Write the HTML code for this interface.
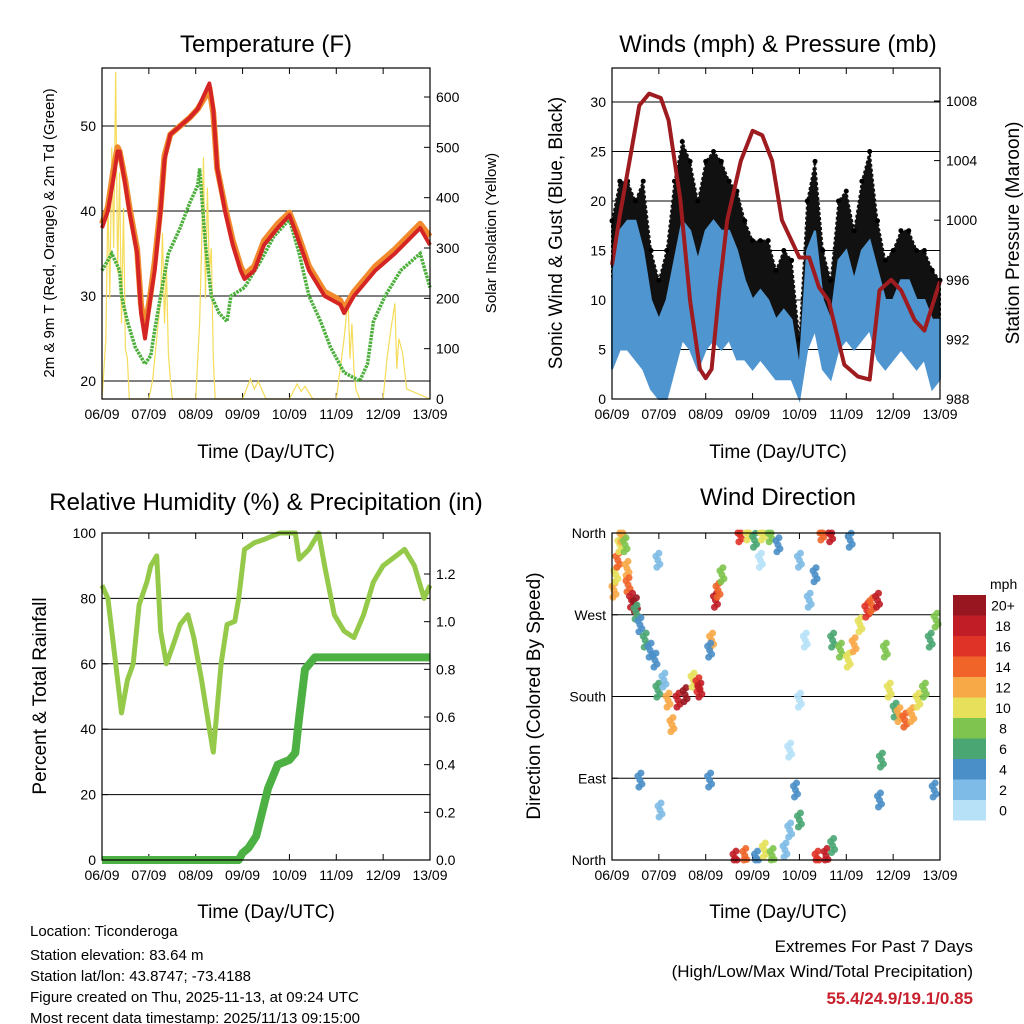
<!DOCTYPE html>
<html><head><meta charset="utf-8"><style>
html,body{margin:0;padding:0;background:#fff}
svg{display:block;font-family:"Liberation Sans",sans-serif}
</style></head><body>
<svg id="s" width="1024" height="1024" viewBox="0 0 1024 1024" xmlns="http://www.w3.org/2000/svg">
<g font-size="24" text-anchor="middle">
<text x="266" y="52">Temperature (F)</text>
<text x="778" y="52">Winds (mph) &amp; Pressure (mb)</text>
<text x="266" y="510">Relative Humidity (%) &amp; Precipitation (in)</text>
<text x="778" y="505">Wind Direction</text>
</g>
<g font-size="19" text-anchor="middle">
<text x="266" y="458">Time (Day/UTC)</text>
<text x="778" y="458">Time (Day/UTC)</text>
<text x="266" y="918">Time (Day/UTC)</text>
<text x="778" y="918">Time (Day/UTC)</text>
<text transform="translate(54,233) rotate(-90)" font-size="15">2m &amp; 9m T (Red, Orange) &amp; 2m Td (Green)</text>
<text transform="translate(496,233) rotate(-90)" font-size="15">Solar Insolation (Yellow)</text>
<text transform="translate(562,233) rotate(-90)">Sonic Wind &amp; Gust (Blue, Black)</text>
<text transform="translate(1019,233) rotate(-90)">Station Pressure (Maroon)</text>
<text transform="translate(46,696) rotate(-90)">Percent &amp; Total Rainfall</text>
<text transform="translate(540,696) rotate(-90)">Direction (Colored By Speed)</text>
</g>
<g font-size="15">
<text x="30" y="936">Location: Ticonderoga</text>
<text x="30" y="960">Station elevation: 83.64 m</text>
<text x="30" y="981">Station lat/lon: 43.8747; -73.4188</text>
<text x="30" y="1002">Figure created on Thu, 2025-11-13, at 09:24 UTC</text>
<text x="30" y="1023">Most recent data timestamp: 2025/11/13 09:15:00</text>
</g>
<g font-size="17" text-anchor="end">
<text x="973" y="952">Extremes For Past 7 Days</text>
<text x="973" y="977">(High/Low/Max Wind/Total Precipitation)</text>
<text x="973" y="1004" fill="#c8202c" font-weight="bold">55.4/24.9/19.1/0.85</text>
</g>
</svg>
<script>
// ---------- data ----------
const dayLabels = ["06/09","07/09","08/09","09/09","10/09","11/09","12/09","13/09"];
const tempHours = [0,3,6,8,9,12,14,18,20,22,25,27,30,32,35,40,45,49,53,55,57,59,63,67,71,73,78,83,90,96,100,106,114,122,124,129,140,150,163,168];
const temp2m = [38,40,44,47,47,43,40,35,28,25,30,33,40,46,49,50,51,52,54,55,52,45,40,36,33,32,33,36,38,39.5,37,33,30,29,28,30,33,35,38,36];
const temp9m = [38.5,40.5,45,47.5,47,43.5,40.5,35.5,29,26,30.5,34,40.5,46.5,49,50,51,52,53.5,54.5,51.5,45,40.5,36.5,33.5,32.5,33.5,36.5,38.5,39.8,37.5,33.5,30.5,29.5,28.5,30.5,33.5,35.5,38.5,37];
const dewHours = [0,5,9,10,13,17,22,25,27,30,34,40,45,49,50,53,56,60,64,66,73,81,88,96,101,106,112,117,124,132,136,139,145,153,163,168];
const dew2m = [33,35,33,30,27,24,22,23,26,30,35,38,41,43,45,36,30,28,27,30,31,34,37,39,35,30,27,24,21,20,22,27,30,33,35,31];
const solarHours = [0,2,3,4,5,6,7,8,9,10,11,12,13,14,24,26,28,30,31,32,33,34,35,36,48,50,51,52,53,54,55,56,57,58,72,76,78,80,84,96,100,102,104,108,120,122,124,126,127,128,129,130,132,144,146,148,150,151,152,154,156,168];
const solarVal = [0,120,400,200,500,300,650,250,450,150,380,100,80,0,0,40,120,200,330,150,260,90,40,0,0,150,300,480,200,420,250,300,80,0,0,40,20,35,0,0,30,15,25,0,0,60,120,200,80,150,60,20,0,0,80,140,190,60,120,90,20,0];
const presHours = [0,4,9,14,19,25,29,35,40,45,48,51,55,59,66,72,77,82,87,96,101,106,111,119,126,132,137,143,148,155,160,168];
const pressure = [997,1000.3,1004,1007.7,1008.5,1008.2,1006.7,1001.4,994.6,990,989.4,990,995.4,1000,1004,1006,1005.7,1004,1000,997.5,997.5,995.5,994.6,990.3,989.5,989.3,995.3,996,995.3,993.3,992.6,995.9];
const windHours = [0,4,8,12,16,20,24,28,32,36,40,44,48,52,56,60,64,68,72,76,80,84,88,92,96,100,104,108,112,116,120,124,128,132,136,140,144,148,152,156,160,164,168];
const windLo = [3,5,5,4,3,1,0,0,3,6,5,3,5,6,5,6,4,4,3,4,3,2,2,2,0,5,7,3,2,5,6,5,6,7,4,3,4,5,4,3,4,1,2];
const windHi = [12,17,18,18,15,10,8,10,14,18,17,14,17,18,17,17,15,12,10,11,10,8,9,8,3,15,17,10,8,14,15,12,15,16,13,10,10,12,12,10,10,8,8];
const gustLo = [10,14,15,14,11,7,4,6,11,15,14,10,14,15,14,14,12,10,8,9,8,6,7,6,2,11,14,8,6,11,12,10,12,14,10,8,8,10,10,8,8,6,6];
const gustHi = [18,22,22,20,22,15,12,15,22,26,24,20,24,25,24,22,21,18,16,16,16,13,15,14,6,20,24,15,12,20,21,17,22,25,18,14,15,17,17,15,15,13,12];
const rhHours = [0,3,7,10,13,16,19,23,25,28,30,33,36,40,44,47,51,55,57,61,64,68,70,73,78,83,91,99,101,106,111,114,119,124,129,134,139,144,155,160,165,168];
const rhVal = [84,80,60,45,55,60,78,85,90,93,70,60,65,72,75,68,55,40,33,60,72,73,80,95,97,98,100,100,92,95,100,90,75,70,68,75,85,90,95,90,80,84];
const rainHours = [0,70,72,75,79,82,85,90,96,99,101,104,109,168];
const rainVal = [0,0,0.03,0.05,0.1,0.2,0.3,0.4,0.42,0.45,0.6,0.8,0.85,0.85];
const dirHours = [1,2,3,4,5,6.7,7.7,8.2,10,12,12.3,14.3,17,19.5,22,23.5,26.6,28.7,30.7,33.8,37.4,41.5,44,45,51,53,54.3,56.3,65.5,69.6,73,77,81,85,63,68,74,78,82,88.6,91,94,96,99,101,104,107.5,112,105,109.6,113,113,117,121,124,127,130.5,133,136,140,142,145,147,150,153.6,156.7,160,163,166,23.5,24.6,14.3,50,50,96,122,137,138,165,96,91,76];
const dirDeg = [297,314,330,347,358,347,321,303,286,281,273,259,242,231,220,187,198,176,149,176,182,198,193,187,242,286,297,314,358,360,352,360,358,347,2,5,2,11,5,11,33,77,176,242,286,314,360,358,2,5,16,242,231,220,237,259,275,281,286,231,187,165,160,154,160,176,187,242,264,330,55,88,88,231,330,352,66,110,77,44,121,330];
const dirSpd = [12,10,14,10,12,8,12,14,18,20,6,4,6,4,4,6,2,12,12,18,20,10,16,18,12,18,14,8,16,10,6,10,8,4,18,14,4,10,8,2,2,4,0,0,2,4,14,18,16,18,6,6,8,10,12,10,16,14,18,8,10,6,12,14,12,10,8,6,8,2,2,4,4,4,2,4,4,6,4,6,0,0];
const speedBins = ["0","2","4","6","8","10","12","14","16","18","20+"];
const binColors = ["#b6e1f7","#7ebbe6","#4a8fc8","#4aa673","#7ec44e","#e6e05a","#f8a947","#f06429","#e03328","#c01d26","#981620"];

// ---------- helpers ----------
const S = document.getElementById('s');
const NS = "http://www.w3.org/2000/svg";
function mk(tag, attrs){ const e=document.createElementNS(NS,tag); for(const k in attrs) e.setAttribute(k,attrs[k]); S.appendChild(e); return e; }
function lin(d0,d1,r0,r1){ return v => r0 + (v-d0)/(d1-d0)*(r1-r0); }
function pathFrom(xs, ys, fx, fy){ return xs.map((h,i)=>(i?'L':'M')+fx(h).toFixed(1)+','+fy(ys[i]).toFixed(1)).join(''); }

function frame(name, x0, x1, y0, y1, leftTicks, fyL, rightTicks, fyR, leftLabels, rightLabels, grid){
  const fx = lin(0,168,x0,x1);
  for(const v of (grid||leftTicks)){
    const l = mk('line',{x1:x0,x2:x1,y1:fyL(v),y2:fyL(v),stroke:'#000','stroke-width':1});
    
    
  }
  leftTicks.forEach((v,i)=>{
    const y=fyL(v);
    mk('line',{x1:x0,x2:x0+6,y1:y,y2:y,stroke:'#000'});
    const t=mk('text',{x:x0-6,y:y+5,'text-anchor':'end','font-size':14});
    t.textContent = leftLabels ? leftLabels[i] : v;
    
    
  });
  if(rightTicks){ rightTicks.forEach((v,i)=>{
    const y=fyR(v);
    mk('line',{x1:x1-6,x2:x1,y1:y,y2:y,stroke:'#000'});
    const t=mk('text',{x:x1+6,y:y+5,'text-anchor':'start','font-size':14});
    t.textContent = rightLabels ? rightLabels[i] : v;
    
    
  });}
  dayLabels.forEach((d,i)=>{
    const x=fx(i*24);
    mk('line',{x1:x,x2:x,y1:y1,y2:y1-6,stroke:'#000'});
    mk('line',{x1:x,x2:x,y1:y0,y2:y0+6,stroke:'#000'});
    const t=mk('text',{x:x,y:y1+20,'text-anchor':'middle','font-size':14});
    t.textContent=d;
    
    
  });
  return fx;
}
function border(name,x0,x1,y0,y1){
  const r=mk('rect',{x:x0,y:y0,width:x1-x0,height:y1-y0,fill:'none',stroke:'#000','stroke-width':1.2});
  
  
}

// ---------- Temperature panel ----------
(function(){
  const x0=102,x1=430,y0=68,y1=399;
  const fyT = lin(20,50,381,126);
  const fyS = lin(0,600,399,97);
  const fx = frame('temp',x0,x1,y0,y1,[20,30,40,50],fyT,[0,100,200,300,400,500,600],fyS);
  const sp = mk('path',{d:pathFrom(solarHours,solarVal,fx,fyS),fill:'none',stroke:'#f5dc5a','stroke-width':1.2});
  
  
  const dp = mk('path',{d:pathFrom(dewHours,dew2m,fx,fyT),fill:'none',stroke:'#4caf3c','stroke-width':3.5,'stroke-dasharray':'2.5 1'});
  
  
  const op = mk('path',{d:pathFrom(tempHours,temp9m,fx,fyT),fill:'none',stroke:'#f08a2c','stroke-width':6,'stroke-linejoin':'round'});
  
  
  const rp = mk('path',{d:pathFrom(tempHours,temp2m,fx,fyT),fill:'none',stroke:'#d42424','stroke-width':4,'stroke-linejoin':'round'});
  
  
  border('temp',x0,x1,y0,y1);
})();

// ---------- Winds panel ----------
(function(){
  const x0=612,x1=940,y0=68,y1=399;
  const fyW = lin(0,30,399,102);
  const fyP = lin(988,1008,399,101);
  const fx = frame('wind',x0,x1,y0,y1,[0,5,10,15,20,25,30],fyW,[988,992,996,1000,1004,1008],fyP,null,null,[5,10,15,20,25,30]);
  function band(lo,hi){
    let d='M'+windHours.map((h,i)=>fx(h).toFixed(1)+','+fyW(hi[i]).toFixed(1)).join('L');
    for(let i=windHours.length-1;i>=0;i--) d+='L'+fx(windHours[i]).toFixed(1)+','+fyW(lo[i]).toFixed(1);
    return d+'Z';
  }
  const g = mk('path',{d:band(gustLo,gustHi),fill:'#111',stroke:'#111','stroke-width':2,'stroke-dasharray':'3 2'});
  
  
  windHours.forEach((h,i)=>{
    const c=mk('circle',{cx:fx(h),cy:fyW(gustHi[i]),r:2.5,fill:'#000'});
    
    
  });
  const b = mk('path',{d:band(windLo,windHi),fill:'#4f95d0',stroke:'#4f95d0','stroke-width':2});
  
  
  const p = mk('path',{d:pathFrom(presHours,pressure,fx,fyP),fill:'none',stroke:'#9e1b1f','stroke-width':4,'stroke-linejoin':'round'});
  
  
  border('wind',x0,x1,y0,y1);
})();

// ---------- RH panel ----------
(function(){
  const x0=102,x1=430,y0=533,y1=860;
  const fyR = lin(0,100,860,533);
  const fyP = lin(0,1.2,860,574);
  const fx = frame('rh',x0,x1,y0,y1,[0,20,40,60,80,100],fyR,[0,0.2,0.4,0.6,0.8,1.0,1.2],fyP,null,["0.0","0.2","0.4","0.6","0.8","1.0","1.2"],[20,40,60,80]);
  const r = mk('path',{d:pathFrom(rhHours,rhVal,fx,fyR),fill:'none',stroke:'#95c94a','stroke-width':5,'stroke-linejoin':'round'});
  
  
  const p = mk('path',{d:pathFrom(rainHours,rainVal,fx,fyP),fill:'none',stroke:'#4cb043','stroke-width':8,'stroke-linejoin':'round'});
  
  
  border('rh',x0,x1,y0,y1);
})();

// ---------- Wind direction panel ----------
(function(){
  const x0=612,x1=940,y0=533,y1=860;
  const fyD = lin(0,360,860,533);
  const fx = frame('dir',x0,x1,y0,y1,[0,90,180,270,360],fyD,null,null,["North","East","South","West","North"]);
  const offs=[[0,0],[2,4],[-2,-4],[1,-7],[-1,7]];
  dirHours.forEach((h,i)=>{
    const bin=Math.min(10,Math.floor(dirSpd[i]/2));
    offs.forEach(o=>{
      const c=mk('circle',{cx:fx(h)+o[0],cy:Math.min(860,Math.max(533,fyD(dirDeg[i])+o[1])),r:3.5,fill:binColors[bin],'fill-opacity':0.9});
      
      
    });
  });
  border('dir',x0,x1,y0,y1);
  const cb0=595, ch=20.5;
  const u=mk('text',{x:990,y:589,'font-size':14}); u.textContent='mph';
  
  
  speedBins.forEach((lab,i)=>{
    const yy=cb0+(10-i)*ch;
    const r=mk('rect',{x:953,y:yy,width:33,height:ch,fill:binColors[i]});
    
    
    const t=mk('text',{x:1003,y:yy+ch/2+5,'font-size':14,'text-anchor':'middle'}); t.textContent=lab;
    
    
  });
})();
</script>
</body></html>
